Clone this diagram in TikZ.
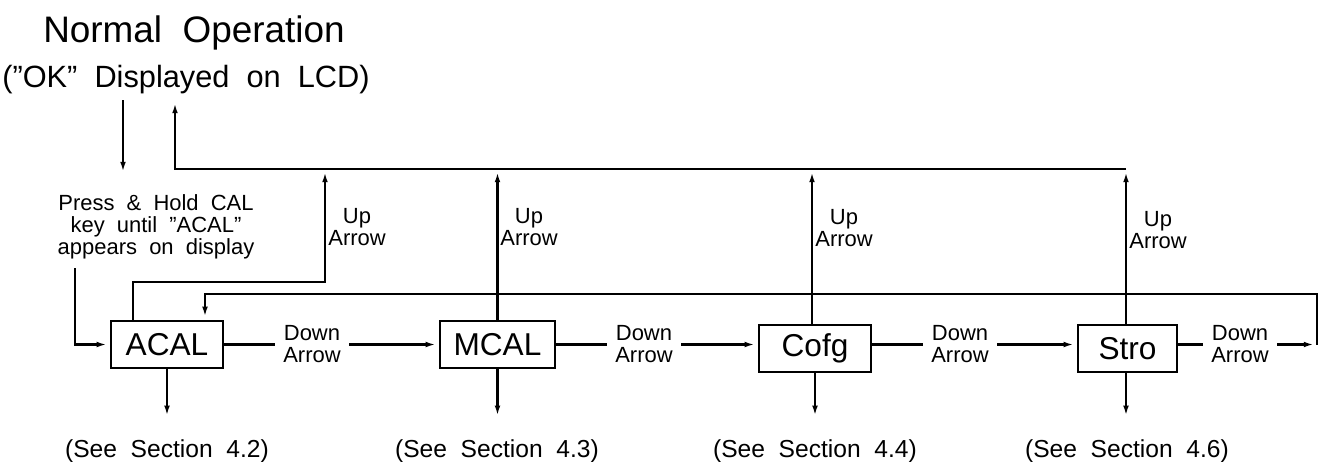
\documentclass[tikz,border=0pt]{standalone}
\usepackage{fontspec}
\setmainfont{Liberation Sans}
\newfontfamily\widefont{Liberation Sans}[Ligatures=TeX, WordSpace=2]
\usetikzlibrary{arrows.meta,positioning}
\tikzset{
  % ---- generic blocks -------------------------------------------------
  mbox/.style={
    draw, line width=1.3pt, minimum height=0.94cm, inner sep=0pt,
    font=\fontsize{18}{18}\selectfont},
  mlabel/.style={font=\fontsize{12.5}{12.5}\selectfont, align=center,
    inner sep=0pt},
  mdown/.style={mlabel, inner xsep=0.16cm},
  mup/.style={mlabel, anchor=west},
  msee/.style={font=\fontsize{14}{14}\selectfont, inner xsep=0pt,
    inner ysep=0.4cm, anchor=base},
  % ---- connections ----------------------------------------------------
  mline/.style={line width=1.4pt},
  mflow/.style={mline, -{Latex[length=7.5pt,width=3pt]}},
}
\begin{document}
\begin{tikzpicture}[x=0.02cm, y=-0.02cm]
\useasboundingbox (0,0) rectangle (1323,461);

% ---- top: normal operation -------------------------------------------
\node[anchor=base, font=\widefont\fontsize{21}{21}\selectfont] (normal) at (194,42)
  {Normal Operation};
\node[anchor=base, font=\widefont\fontsize{17.5}{17.5}\selectfont] (okline) at (186,87)
  {(''OK'' Displayed on LCD)};
\node[mlabel, font=\widefont\fontsize{12.5}{12.5}\selectfont] (press) at (156,227)
  {Press \& Hold CAL\\key until ''ACAL''\\appears on display};

% ---- row: the menu items ---------------------------------------------
\node[mbox, minimum width=2.24cm] (acal) at (167,344.5)  {ACAL};
\node[mbox, minimum width=2.30cm] (mcal) at (497.5,344.5) {MCAL};
\node[mbox, minimum width=2.24cm] (cofg) at (815,348.5)   {Cofg};
\node[mbox, minimum width=1.98cm] (stro) at (1127.5,348.5) {Stro};

% ---- labels ----------------------------------------------------------
\node[mdown] (dn1) at (312,344.5)  {Down\\Arrow};
\node[mdown] (dn2) at (644,344.5)  {Down\\Arrow};
\node[mdown] (dn3) at (960,344.5)  {Down\\Arrow};
\node[mdown] (dn4) at (1240,344.5) {Down\\Arrow};

\node[mup] (up1) at (328,227)  {Up\\Arrow};
\node[mup] (up2) at (500,227)  {Up\\Arrow};
\node[mup] (up3) at (815,228)  {Up\\Arrow};
\node[mup] (up4) at (1129,230) {Up\\Arrow};

\node[msee] (see1) at (167,457)  {(See Section 4.2)};
\node[msee] (see2) at (497,457)  {(See Section 4.3)};
\node[msee] (see3) at (815,457)  {(See Section 4.4)};
\node[msee] (see4) at (1127,457) {(See Section 4.6)};

% ---- helper points ---------------------------------------------------
\coordinate (okout) at (123,100);
\coordinate (pin)   at (123,175);
\coordinate (okin)  at (175,100);
\coordinate (ctop)  at (175,169);
\coordinate (inp)   at (75,268);
\coordinate (ajog)  at (325,282);
\coordinate (loop)  at (1317,344.5);

% ---- edges -----------------------------------------------------------
\draw[mflow] (okout) -- (pin);
\draw[mflow] (inp) |- (acal.west);

\draw[mline] (acal) -- (dn1);
\draw[mflow] (dn1) -- (mcal);
\draw[mline] (mcal) -- (dn2);
\draw[mflow] (dn2) -- (dn2 -| cofg.west);
\draw[mline] (dn3 -| cofg.east) -- (dn3);
\draw[mflow] (dn3) -- (dn3 -| stro.west);
\draw[mline] (dn4 -| stro.east) -- (dn4);
\draw[mflow] (dn4) -- (loop);
\draw[mflow] (loop) -- ++(0,-50.5) -| ([xshift=0.76cm]acal.north);

\draw[mflow] ([xshift=-0.68cm]acal.north) |- (ajog) -- (ajog |- ctop);
\draw[mflow] (mcal.north) -- (mcal.north |- ctop);
\draw[mflow] ([xshift=-0.06cm]cofg.north) -- ([xshift=-0.06cm]cofg.north |- ctop);
\draw[mflow] ([xshift=-0.03cm]stro.north) -- ([xshift=-0.03cm]stro.north |- ctop);
\draw[mflow] ([xshift=-0.03cm]stro.north |- ctop) -- (ctop) -- (okin);

\draw[mflow] (acal) -- (see1);
\draw[mflow] (mcal.south) -- (mcal.south |- see2.north);
\draw[mflow] (cofg.south) -- (cofg.south |- see3.north);
\draw[mflow] ([xshift=-0.03cm]stro.south) -- ([xshift=-0.03cm]stro.south |- see4.north);

\end{tikzpicture}
\end{document}
